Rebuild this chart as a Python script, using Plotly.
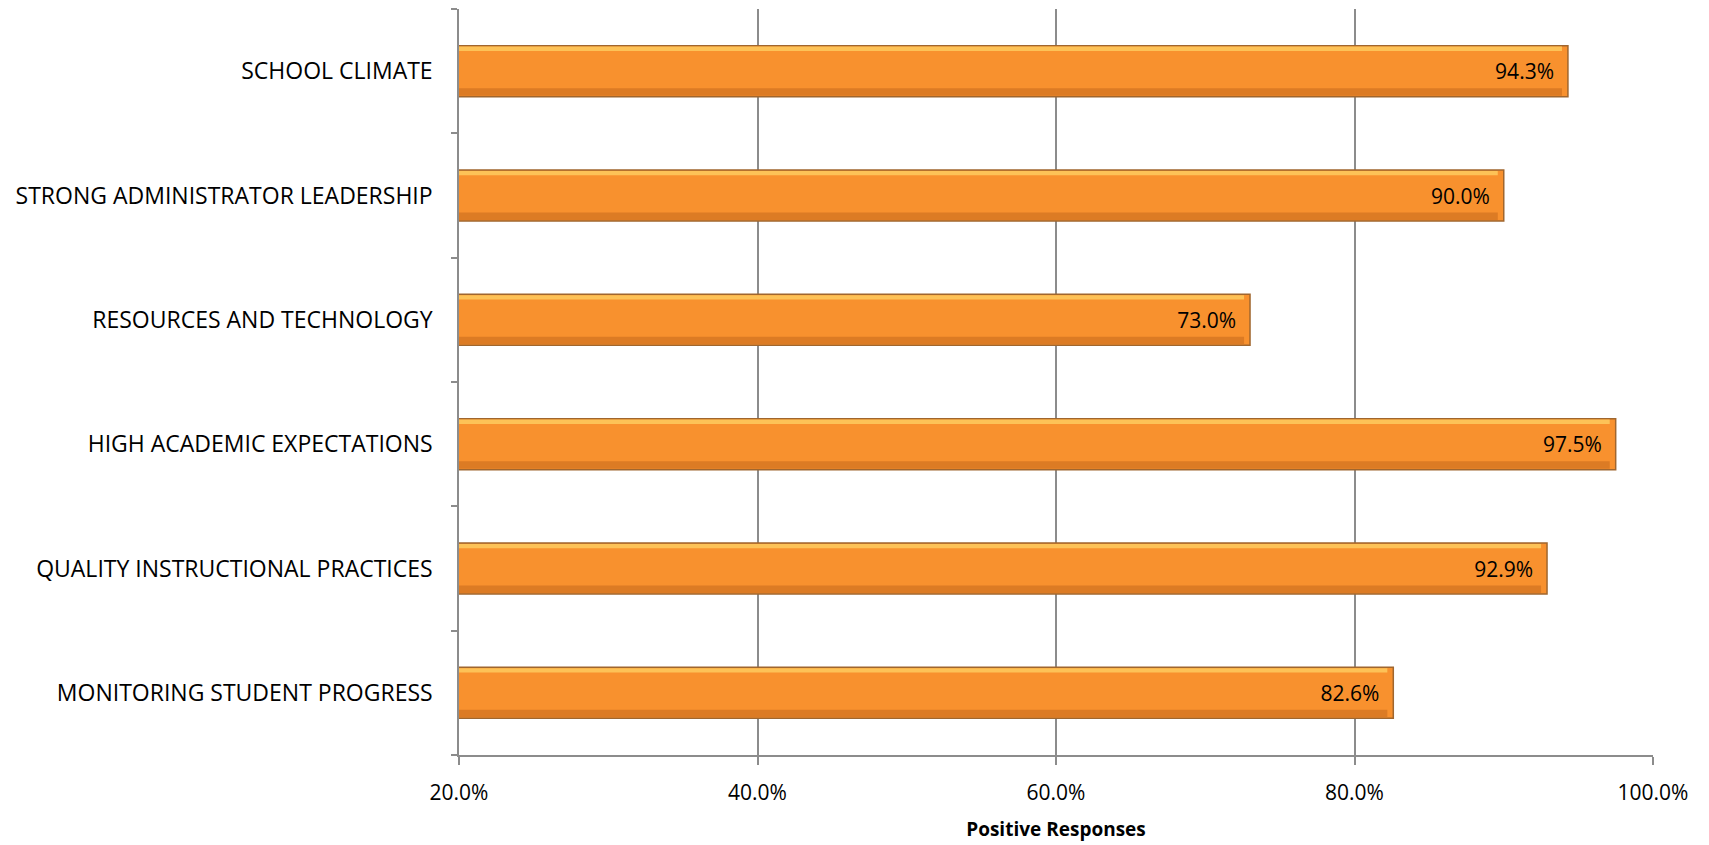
import plotly.graph_objects as go

categories = [
    "MONITORING STUDENT PROGRESS",
    "QUALITY INSTRUCTIONAL PRACTICES",
    "HIGH ACADEMIC EXPECTATIONS",
    "RESOURCES AND TECHNOLOGY",
    "STRONG ADMINISTRATOR LEADERSHIP",
    "SCHOOL CLIMATE",
]
values = [0.826, 0.929, 0.975, 0.730, 0.900, 0.943]
labels = ["82.6%", "92.9%", "97.5%", "73.0%", "90.0%", "94.3%"]
x_ticks = [0.2, 0.4, 0.6, 0.8, 1.0]
x_tick_text = ["20.0%", "40.0%", "60.0%", "80.0%", "100.0%"]

FONT = "Open Sans"
BAR_W = 0.41

fig = go.Figure()
# main bar
fig.add_trace(go.Bar(
    y=categories,
    x=values,
    orientation="h",
    width=BAR_W,
    offset=-BAR_W / 2,
    text=[t + "\u00a0\u00a0" for t in labels],
    textposition="inside",
    insidetextanchor="end",
    textfont=dict(family=FONT, size=21, color="#000000"),
    marker=dict(color="#F8912E", line=dict(color="#A0662E", width=1.5)),
    hoverinfo="skip",
))
# top highlight band (bevel look)
fig.add_trace(go.Bar(
    y=categories,
    x=[v - 0.004 for v in values],
    orientation="h",
    width=0.035,
    offset=BAR_W / 2 - 0.042,
    marker=dict(color="#FDC257", line=dict(width=0)),
    hoverinfo="skip",
))
# bottom darker band
fig.add_trace(go.Bar(
    y=categories,
    x=[v - 0.004 for v in values],
    orientation="h",
    width=0.06,
    offset=-BAR_W / 2 + 0.008,
    marker=dict(color="#DC7B24", line=dict(width=0)),
    hoverinfo="skip",
))

fig.update_layout(
    width=1709,
    height=845,
    margin=dict(l=459, r=56, t=9, b=90),
    paper_bgcolor="white",
    plot_bgcolor="white",
    showlegend=False,
    barmode="overlay",
    font=dict(family=FONT, size=18, color="#000000"),
    xaxis=dict(
        range=[0.2, 1.0],
        tickvals=x_ticks,
        ticktext=x_tick_text,
        showgrid=True,
        gridcolor="#8C8C8C",
        gridwidth=1.5,
        showline=True,
        linecolor="#8C8C8C",
        linewidth=1.5,
        ticks="outside",
        ticklen=8,
        tickcolor="#8C8C8C",
        tickwidth=1.5,
        ticklabelstandoff=10,
        tickfont=dict(family=FONT, size=21),
        zeroline=False,
        title=dict(text="<b>Positive Responses</b>", font=dict(family=FONT, size=19), standoff=18),
    ),
    yaxis=dict(
        type="category",
        categoryorder="array",
        categoryarray=categories,
        showgrid=False,
        showline=True,
        linecolor="#8C8C8C",
        linewidth=1.5,
        ticks="outside",
        tickson="boundaries",
        ticklen=6,
        tickcolor="#8C8C8C",
        tickwidth=1.5,
        ticklabelstandoff=20,
        tickfont=dict(family=FONT, size=23),
    ),
)

fig.write_html("out.html")
